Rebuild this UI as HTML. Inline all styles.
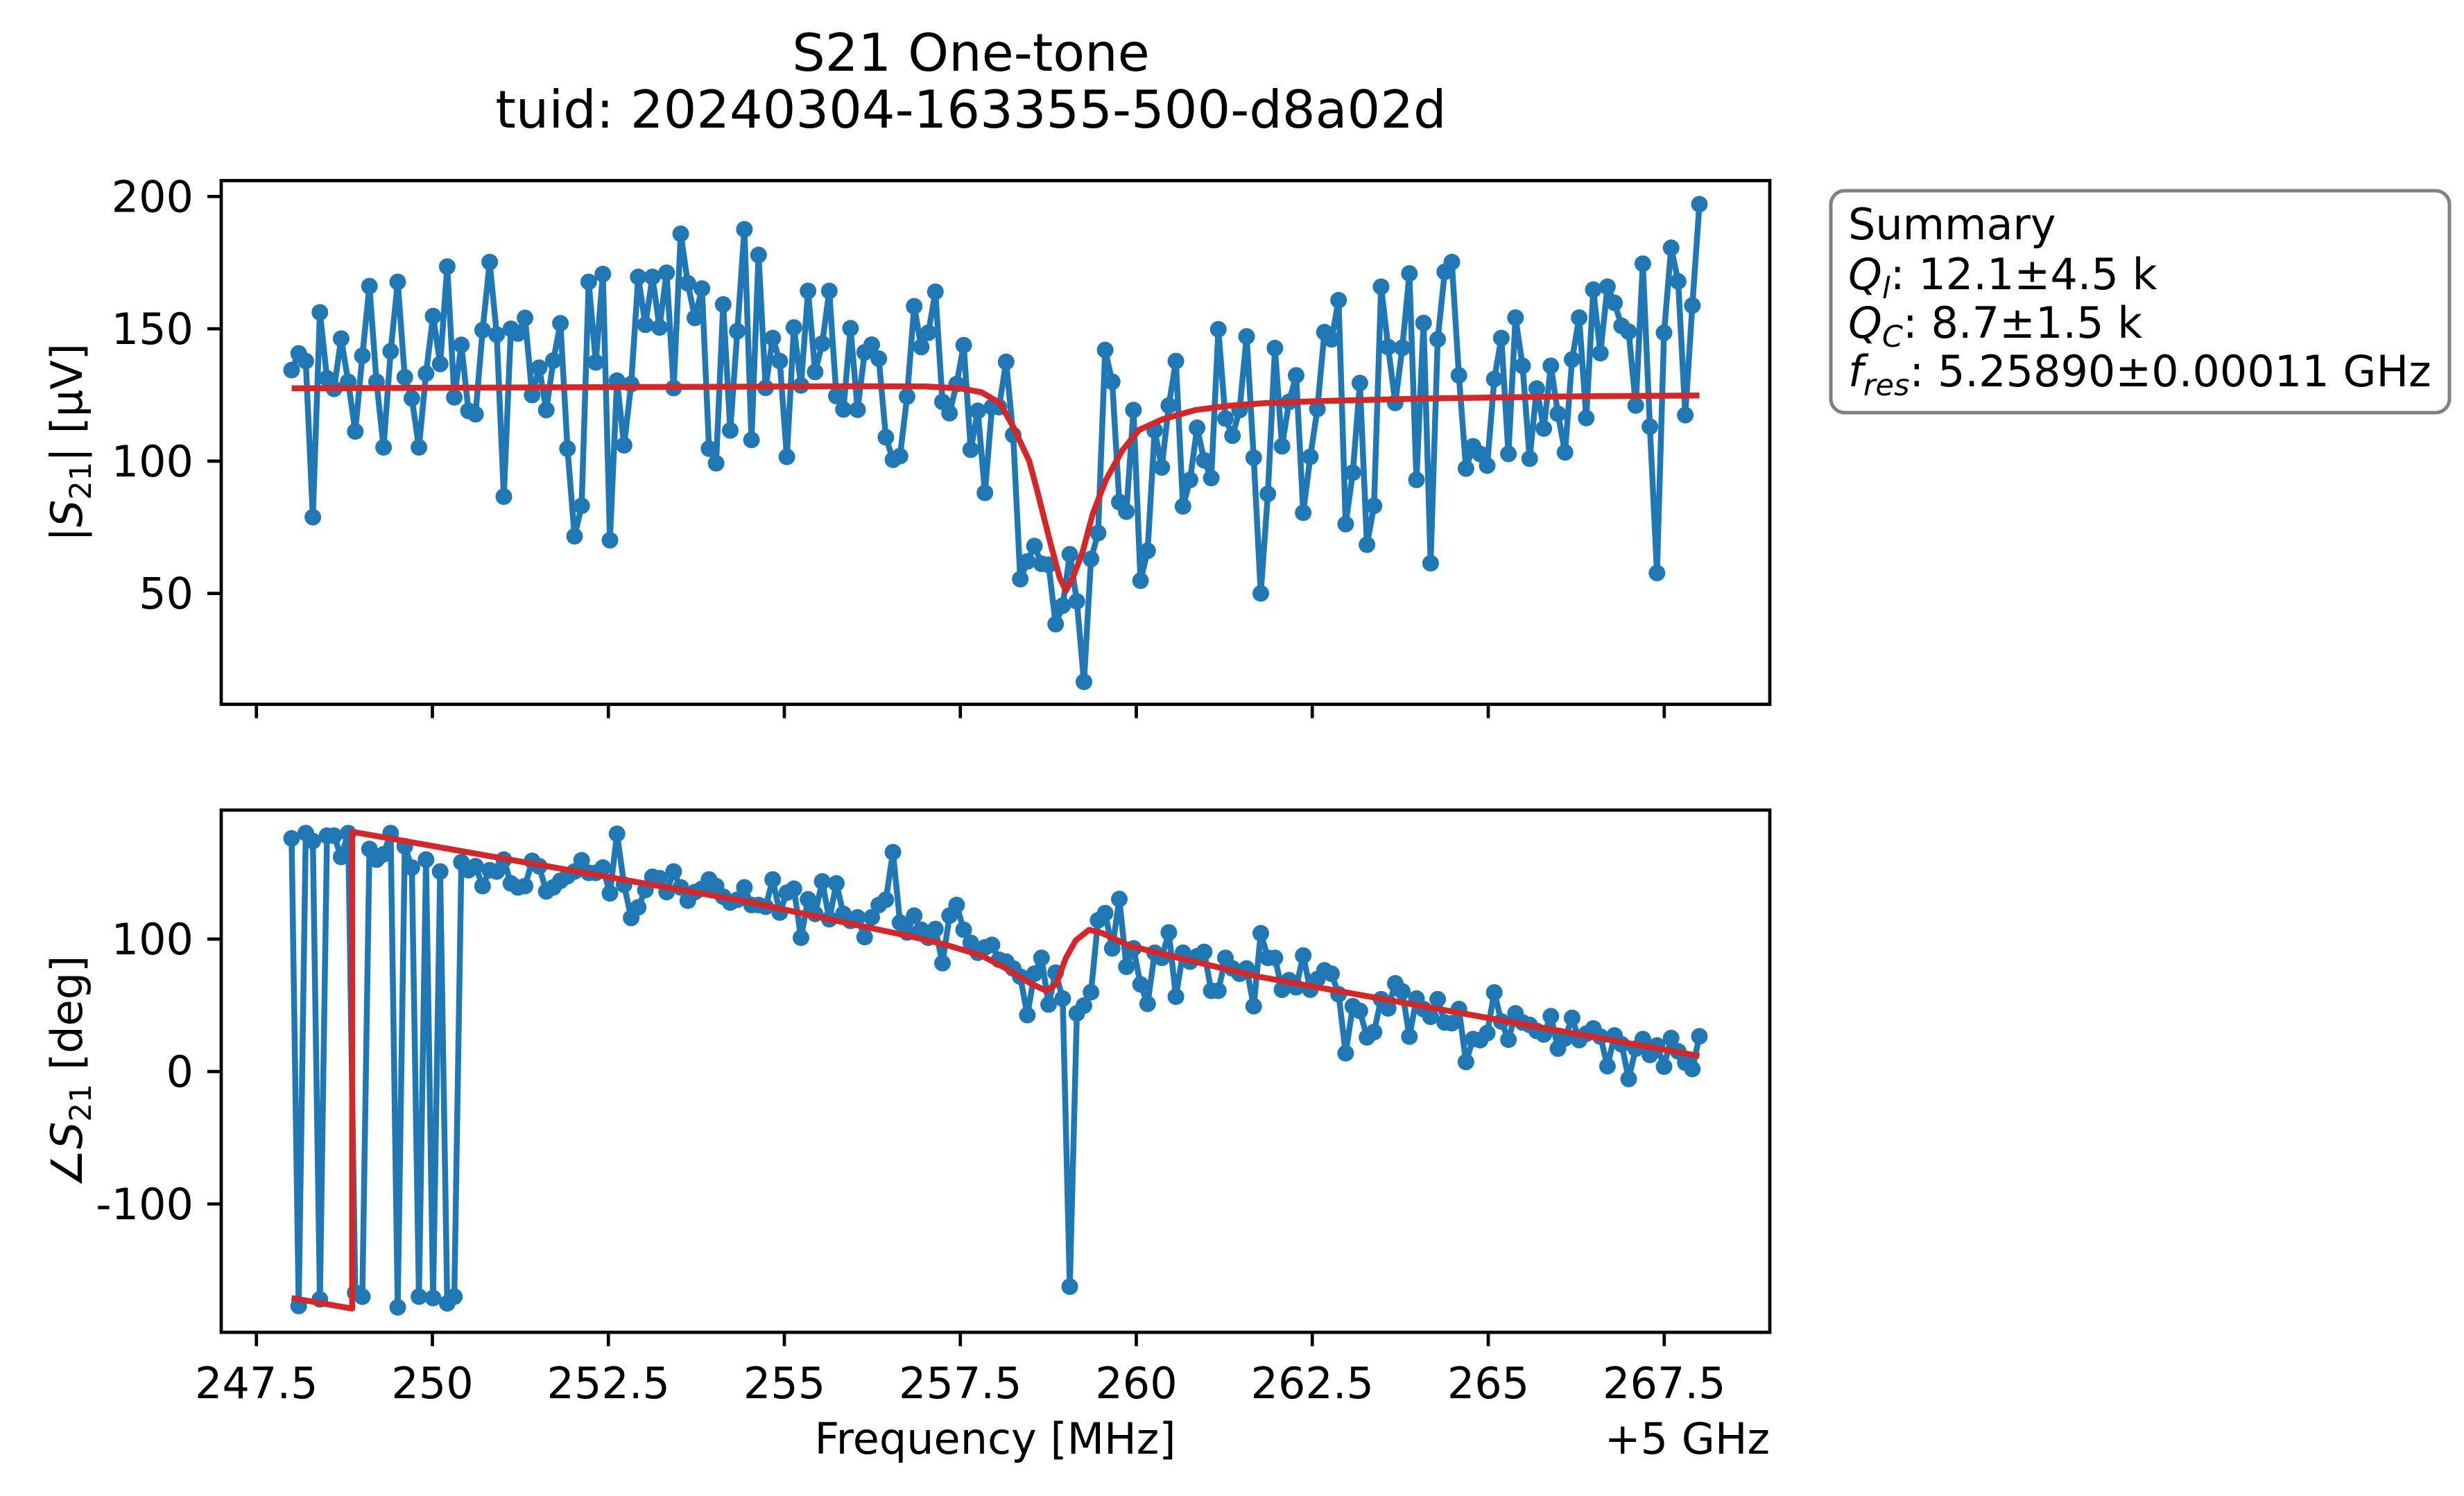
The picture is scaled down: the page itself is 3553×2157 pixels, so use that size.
<!DOCTYPE html>
<html><head><meta charset="utf-8"><style>
html,body{margin:0;padding:0;background:#fff;}
svg{display:block;font-family:"DejaVu Sans","Liberation Sans",sans-serif;}
</style></head><body>
<svg id="fig" xmlns="http://www.w3.org/2000/svg" width="3553" height="2157" viewBox="0 0 3553 2157">
<rect width="3553" height="2157" fill="#fff"/>
<text x="1400" y="102" font-size="75" text-anchor="middle">S21 One-tone</text>
<text x="1400" y="184" font-size="75" text-anchor="middle">tuid: 20240304-163355-500-d8a02d</text>
<g id="top"></g>
<g id="bot"></g>
<text transform="translate(118,638) rotate(-90)" font-size="62" text-anchor="middle">|<tspan font-style="italic">S</tspan><tspan font-size="43" dy="13">21</tspan><tspan dy="-13">| [µV]</tspan></text>
<text transform="translate(118,1545) rotate(-90)" font-size="62" text-anchor="middle">∠<tspan font-style="italic">S</tspan><tspan font-size="43" dy="13">21</tspan><tspan dy="-13"> [deg]</tspan></text>
<text x="1435" y="2096" font-size="62" text-anchor="middle">Frequency [MHz]</text>
<text x="2552" y="2096" font-size="62" text-anchor="end">+5 GHz</text>
<g>
<rect x="2640" y="275" width="892" height="320" rx="20" ry="20" fill="#fff" stroke="#808080" stroke-width="5"/>
<text x="2665" y="345" font-size="62">Summary</text>
<text x="2665" y="417" font-size="62"><tspan font-style="italic">Q</tspan><tspan font-style="italic" font-size="43" dy="13">l</tspan><tspan dy="-13">: 12.1±4.5 k</tspan></text>
<text x="2665" y="487" font-size="62"><tspan font-style="italic">Q</tspan><tspan font-style="italic" font-size="43" dy="13">C</tspan><tspan dy="-13">: 8.7±1.5 k</tspan></text>
<text x="2665" y="557" font-size="62"><tspan font-style="italic">f</tspan><tspan font-style="italic" font-size="43" dy="13">res</tspan><tspan dy="-13">: 5.25890±0.00011 GHz</tspan></text>
</g>
</svg>
<script>
const freqStart = 248;
const freqStop = 268;
const xTicks = [247.5, 250, 252.5, 255, 257.5, 260, 262.5, 265, 267.5];
const xTickLabels = ["247.5", "250", "252.5", "255", "257.5", "260", "262.5", "265", "267.5"];
const magTicks = [50, 100, 150, 200];
const magTickLabels = ["50", "100", "150", "200"];
const phaseTicks = [-100, 0, 100];
const phaseTickLabels = ["-100", "0", "100"];
const magValues = [134.4,140.7,137.8,78.8,156.2,131.3,127.3,146.3,130.0,111.2,139.8,166.1,130,105.2,141.5,167.7,131.7,123.7,105.2,133.1,154.8,136.7,173.5,124.1,143.9,119.0,117.7,149.5,175.2,147.8,86.6,150,148.2,154.1,125,135.3,119.3,138,152.1,104.7,71.6,83.1,167.7,137.3,170.7,70.1,130.4,106,129.1,169.6,151.5,169.6,150.5,171.2,127.6,185.9,167.2,154.1,165.2,104.7,99.2,159.2,111.6,149.1,187.6,108,177.9,
127.7,146.5,137.8,101.6,150.5,128.6,164.3,133.7,144.4,164.3,124.6,119.5,150.2,119.4,141.1,144,138.7,109,100.5,101.9,124.4,158.5,143.1,148.5,164,122.4,118.1,129.1,143.8,104.3,119,88,120.4,120.4,137.5,109.9,55.4,62.1,67.9,61.2,60.8,38.4,45.4,64.8,47,16.6,63,72.8,142,130,84.5,80.9,119.3,54.8,66.1,111.6,97.6,121,137.8,82.9,92.9,112.6,100.3,93.6,149.8,116.1,109.6,119.3,147.1,101.3,50,87.6,
142.7,105.6,122.4,132.4,80.5,101.6,119.7,148.7,146,160.8,76.2,95.6,129.5,68.4,83.1,165.9,143.1,122,142.8,170.9,92.9,152.2,61.4,146,171.5,175.2,132.4,97.2,105.6,102.7,98.3,131,146.5,102.7,154.2,136,100.9,127.4,112.3,136,117.9,103.3,138.4,154.2,116.3,164.8,140.8,165.9,159.8,151.1,148.9,121,174.6,113,57.7,148.5,180.6,167.9,117.4,158.8,197.1];
const phaseValues = [176,-177,180,174,-172,178,178,162,180,-167,-170,168,160,164,180,-178,170,154,-170,160,-171,151,-175,-170,158,152,155,140,152,151,160,142,139,140,159,155,136,139,144,147.5,151,159.5,150,150,154,134.5,179.5,141,116,124,137,147,146,135.5,151,139,129,135.5,138,145,140,132,127.6,129.7,139,125.7,125.7,
124.4,145,120,135,138,101,130,119,143.5,115,142,119,113.7,116.4,101.5,116.4,125.7,129.7,165.6,112.4,105,117.7,107,101,107.6,81.8,117.7,125.7,107,97.2,89.7,93.7,95.6,84.4,83,77.8,71.6,42.6,73.8,85.8,50.6,74.6,55.1,-162.4,43.9,49.8,59.9,114.2,119.6,93,130.2,79.1,93,65.8,51.1,89.7,85.8,105,56.5,89.7,83,87,90.3,61,61,85.8,77.8,73.8,77.8,49.3,104.4,
85.8,85.8,61.8,69,63.6,87.6,61.8,69.8,76.4,73.8,58.3,13.8,49.3,45.8,25.8,29.8,54.6,47.7,66.6,60.5,26.4,55.1,47.1,41.3,54.6,37,36.5,47.1,7.2,24.5,23.7,29,59.7,37.8,24,43.9,37,35.2,30.6,28,41.8,17.3,25,40.5,23.7,28.5,32.5,26.4,4,27.2,20.5,-5.6,17.3,24.5,12.5,19.7,3.7,25.3,15.2,6.7,1.9,26.6];
const fitMagFreq = [248,252,256,257,257.5,257.8,258.06,258.25,258.48,258.6,258.77,258.91,259.0,259.1,259.24,259.38,259.57,259.8,260.04,260.37,260.84,261.31,261.83,262.5,264,265,266,268];
const fitMagValues = [127.5,127.9,128.3,128.2,127.5,126,122,113,100,88,70,56,51,56,66,80,93,104,111.8,115.8,119.3,120.9,121.9,122.6,123.6,124.0,124.4,124.8];
const fitPhaseFreq = [248,248.86,248.86,254.5,255.9,256.8,257.3,257.8,258.15,258.48,258.72,258.86,259.0,259.14,259.33,259.52,259.9,260.6,261.7,268];
const fitPhaseValues = [-171,-179,181,128,112,102,95.6,87.6,77.8,67,61,65.8,85.8,99,107,104.4,95,85.8,72,11.7];

const NS = "http://www.w3.org/2000/svg";
const L = 319, R = 2552, XMIN = 247.0, XMAX = 269.0;
function xs(f){ return L + (f - XMIN) / (XMAX - XMIN) * (R - L); }
function mk(tag, attrs, parent){ const e = document.createElementNS(NS, tag); for (const k in attrs) e.setAttribute(k, attrs[k]); parent.appendChild(e); return e; }

function drawAxes(g, T, B, ymin, ymax, ticks, tickLabels, values, fitF, fitV, showXLabels, prefix){
  const ys = v => B - (v - ymin) / (ymax - ymin) * (B - T);
  const n = values.length;
  const fq = i => freqStart + i * (freqStop - freqStart) / (n - 1);
  const pts = values.map((v, i) => xs(fq(i)).toFixed(1) + "," + ys(v).toFixed(1)).join(" ");
  const line = mk("polyline", {points: pts, fill: "none", stroke: "#1f77b4", "stroke-width": 8.5, "stroke-linejoin": "round"}, g);
  
  
  values.forEach((v, i) => {
    const c = mk("circle", {cx: xs(fq(i)).toFixed(1), cy: ys(v).toFixed(1), r: 12, fill: "#1f77b4"}, g);
    
    
  });
  const fp = fitF.map((f, i) => xs(f).toFixed(1) + "," + ys(fitV[i]).toFixed(1)).join(" ");
  const fl = mk("polyline", {points: fp, fill: "none", stroke: "#d62728", "stroke-width": 8.5, "stroke-linejoin": "round"}, g);
  
  
  const fr = mk("rect", {x: L, y: T, width: R - L, height: B - T, fill: "none", stroke: "#000", "stroke-width": 4.7}, g);
  
  
  ticks.forEach((t, i) => {
    const y = ys(t);
    const tk = mk("line", {x1: L - 20, x2: L, y1: y, y2: y, stroke: "#000", "stroke-width": 4.7}, g);
    
    
    const tl = mk("text", {x: L - 40, y: y + 22, "font-size": 62, "text-anchor": "end"}, g);
    tl.textContent = tickLabels[i];
    
    
  });
  xTicks.forEach((t, i) => {
    const x = xs(t);
    const tk = mk("line", {x1: x, x2: x, y1: B, y2: B + 20, stroke: "#000", "stroke-width": 4.7}, g);
    
    
    if (showXLabels) {
      const tl = mk("text", {x: x, y: 2016, "font-size": 62, "text-anchor": "middle"}, g);
      tl.textContent = xTickLabels[i];
      
      
    }
  });
}
drawAxes(document.getElementById("top"), 260.4, 1015.5, 8.1, 206, magTicks, magTickLabels, magValues, fitMagFreq, fitMagValues, false, "magnitude");
drawAxes(document.getElementById("bot"), 1168, 1921, -196.9, 197.4, phaseTicks, phaseTickLabels, phaseValues, fitPhaseFreq, fitPhaseValues, true, "phase");
</script>
</body></html>
